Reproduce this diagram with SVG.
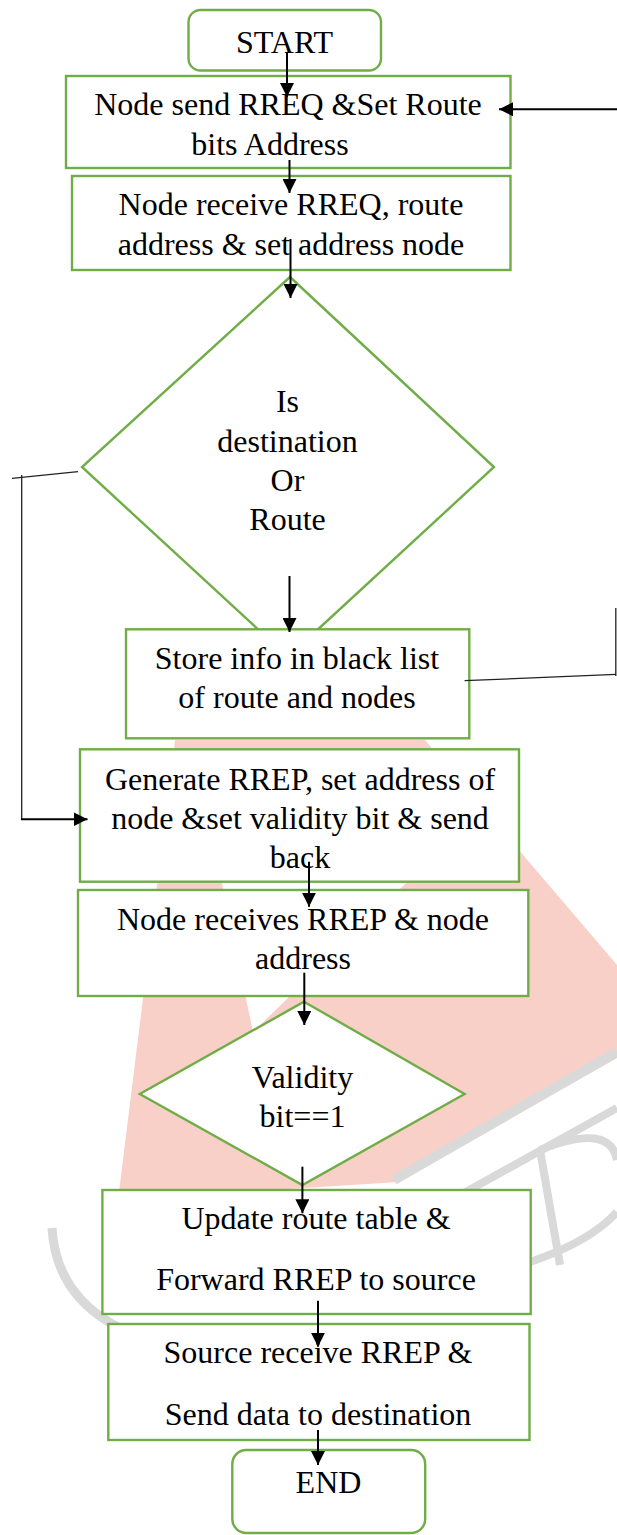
<svg xmlns="http://www.w3.org/2000/svg" width="617" height="1535" viewBox="0 0 617 1535">
<style>
.box{fill:#ffffff;stroke:#70AD47;stroke-width:2.4}
.t{font-family:"Liberation Serif","Times New Roman",serif;font-size:32px;fill:#000;text-anchor:middle}
.arr{stroke:#000;stroke-width:2;fill:none;marker-end:url(#ah)}
.thin{stroke:#222;stroke-width:1.3;fill:none}
.wm{fill:none;stroke:#d9d9d9}
</style>
<defs>
<marker id="ah" viewBox="0 0 14 14" refX="14" refY="7" markerWidth="14" markerHeight="14" markerUnits="userSpaceOnUse" orient="auto">
<path d="M0,0 L14,7 L0,14 z" fill="#000"/>
</marker>
</defs>
<rect width="617" height="1535" fill="#ffffff"/>
<g id="watermark">
<path d="M175,740 L425,740 L617,965 L617,1058 L398,1182 L118,1200 Z M215,850 L253,1032 L440,850 Z" fill="#f9d0c7" fill-rule="evenodd"/>
<path class="wm" d="M52,1228 Q58,1330 200,1352" stroke-width="9"/>
<path class="wm" d="M394,1180 L617,1052" stroke-width="10"/>
<path class="wm" d="M455,1198 L617,1108" stroke-width="8"/>
<path class="wm" d="M530,1262 Q590,1242 617,1212" stroke-width="8"/>
<path class="wm" d="M540,1150 L560,1265 M540,1150 Q610,1122 617,1160" stroke-width="8"/>
</g>
<g id="start">
<rect class="box" x="188.5" y="10" width="192.5" height="60.5" rx="12"/>
<text class="t" x="284.5" y="53">START</text>
</g>
<g id="send-rreq">
<rect class="box" x="66" y="76" width="444.5" height="92"/>
<text class="t" x="288" y="115">Node send RREQ &amp;Set Route</text>
<text class="t" x="270" y="155">bits Address</text>
</g>
<g id="receive-rreq">
<rect class="box" x="72" y="176" width="438.5" height="94"/>
<text class="t" x="291" y="215">Node receive RREQ, route</text>
<text class="t" x="291" y="255">address &amp; set address node</text>
</g>
<g id="is-destination">
<polygon class="box" points="290,277 494,467 288,657 82,467"/>
<text class="t" x="287.5" y="411.7">Is</text>
<text class="t" x="287.5" y="451.7">destination</text>
<text class="t" x="287.5" y="490.5">Or</text>
<text class="t" x="287.5" y="530">Route</text>
</g>
<g id="store-blacklist">
<rect class="box" x="126" y="629.3" width="343.3" height="109"/>
<text class="t" x="297" y="669.3">Store info in black list</text>
<text class="t" x="297" y="708.3">of route and nodes</text>
</g>
<g id="generate-rrep">
<rect class="box" x="80" y="749.3" width="439" height="132.4"/>
<text class="t" x="300" y="790">Generate RREP, set address of</text>
<text class="t" x="300" y="829.3">node &amp;set validity bit &amp; send</text>
<text class="t" x="300" y="867.7">back</text>
</g>
<g id="receive-rrep">
<rect class="box" x="78" y="890" width="450.3" height="106"/>
<text class="t" x="303" y="930">Node receives RREP &amp; node</text>
<text class="t" x="303" y="969.3">address</text>
</g>
<g id="validity">
<polygon class="box" points="304,1001.7 464.6,1094 302.4,1185 139.8,1094"/>
<text class="t" x="302.5" y="1088.3">Validity</text>
<text class="t" x="302.5" y="1127.3">bit==1</text>
</g>
<g id="update-route">
<rect class="box" x="102.4" y="1190" width="428.3" height="124"/>
<text class="t" x="316" y="1229.3">Update route table &amp;</text>
<text class="t" x="316" y="1290">Forward RREP to source</text>
</g>
<g id="source-receive">
<rect class="box" x="108.3" y="1324" width="421.2" height="116"/>
<text class="t" x="318" y="1363.3">Source receive RREP &amp;</text>
<text class="t" x="318" y="1425">Send data to destination</text>
</g>
<g id="end">
<rect class="box" x="232.3" y="1450" width="192.9" height="83" rx="14"/>
<text class="t" x="328.5" y="1493.3">END</text>
</g>
<g id="connectors">
<line class="arr" x1="287" y1="52" x2="287" y2="97"/>
<line class="arr" x1="289.5" y1="160" x2="289.5" y2="193"/>
<line class="arr" x1="290.5" y1="239" x2="290.5" y2="298"/>
<line class="arr" x1="289.5" y1="576" x2="289.5" y2="632"/>
<line class="thin" x1="78" y1="471.7" x2="12" y2="478.3"/>
<line class="thin" x1="21.7" y1="475" x2="21.7" y2="819.5"/>
<line class="arr" x1="21" y1="819.3" x2="87.5" y2="819.3"/>
<line class="thin" x1="464.6" y1="680.7" x2="616" y2="674.3"/>
<line class="thin" x1="615.8" y1="608" x2="615.8" y2="676"/>
<line class="arr" x1="617" y1="109.3" x2="499" y2="109.3"/>
<line class="arr" x1="309" y1="861.7" x2="309" y2="906.7"/>
<line class="arr" x1="304.3" y1="972.7" x2="304.3" y2="1025"/>
<line class="arr" x1="302.4" y1="1166.7" x2="302.4" y2="1213.3"/>
<line class="arr" x1="318" y1="1300.7" x2="318" y2="1346.7"/>
<line class="arr" x1="318" y1="1430" x2="318" y2="1465"/>
</g>
</svg>
